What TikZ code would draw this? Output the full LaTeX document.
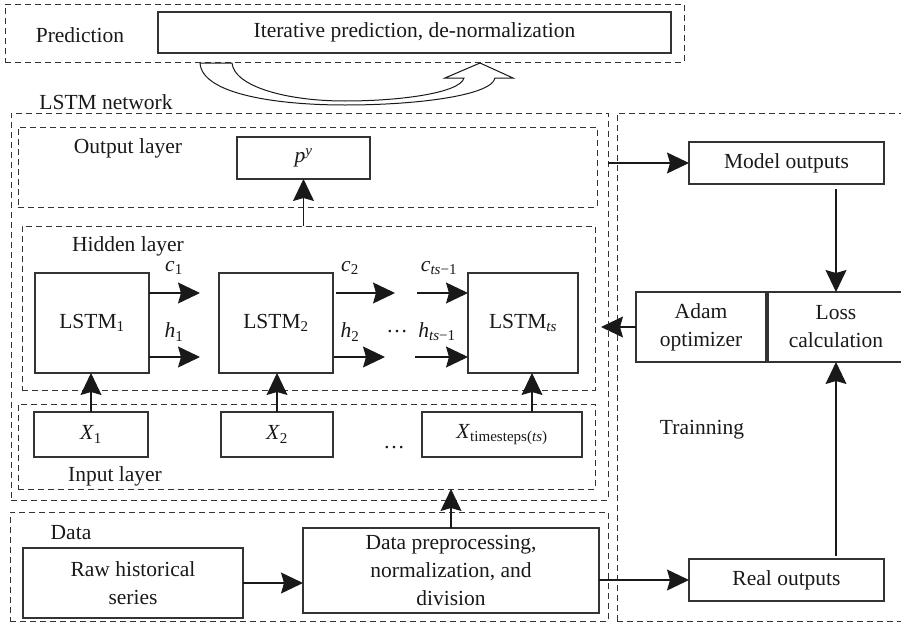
\documentclass[tikz,border=0pt]{standalone}
\usepackage{fontspec}
\setmainfont{Liberation Serif}
\usetikzlibrary{arrows.meta}
\tikzset{
  grp/.style={draw=black!80, line width=0.9pt, dash pattern=on 6pt off 4pt, anchor=north west, inner sep=0pt, outer sep=0pt},
  box/.style={draw=black!80, line width=1.3pt, anchor=north west, inner sep=0pt, outer sep=0pt, align=center, text=black!90},
  lbl/.style={inner sep=0pt, text=black!90},
  arr/.style={line width=1.1pt, draw=black!90, -{Stealth[length=22pt,width=21pt,inset=3pt]}},
}
\begin{document}
\begin{tikzpicture}[x=1pt,y=-1pt,font=\fontsize{21.5}{28}\selectfont]
\useasboundingbox (0,0) rectangle (901,629);
\clip (0,0) rectangle (901,629);

% Prediction
\node[grp, minimum width=679pt, minimum height=58pt] (pred) at (5,4) {};
\node[box, minimum width=513pt, minimum height=41pt] (iter) at (158,12) {Iterative prediction, de-normalization};
\node[lbl] (predl) at (80,35) {Prediction};

% curved feedback arrow
\draw[line width=1pt, draw=black!90] (200,63) .. controls (202,95) and (280,105) .. (345,105)
  .. controls (420,105) and (492,95) .. (495,78) -- (513,78) -- (480,63) -- (445,78) -- (464,78)
  .. controls (460,93) and (400,101) .. (345,101) .. controls (285,101) and (234,86) .. (232,63) -- cycle;

% LSTM network
\node[grp, minimum width=597pt, minimum height=387pt] (lstm) at (11,113) {};
\node[lbl] (lstml) at (106,102) {LSTM network};
\node[grp, minimum width=579pt, minimum height=80pt] (outl) at (18,127) {};
\node[lbl] (outll) at (128,148) {Output layer};
\node[box, minimum width=133pt, minimum height=42pt] (py) at (237,137) {\textit{p}\textsuperscript{\textit{y}}};
\node[grp, minimum width=573pt, minimum height=164pt] (hidl) at (22,226) {};
\node[lbl] (hidll) at (128,246) {Hidden layer};
\node[box, minimum width=114pt, minimum height=100pt] (L1) at (35,273) {LSTM\textsubscript{1}};
\node[box, minimum width=114pt, minimum height=100pt] (L2) at (219,273) {LSTM\textsubscript{2}};
\node[box, minimum width=110pt, minimum height=100pt] (Lts) at (468,273) {LSTM\textsubscript{\textit{ts}}};
\node[grp, minimum width=577pt, minimum height=85pt] (inl) at (18,404) {};
\node[box, minimum width=114pt, minimum height=45pt] (X1) at (34,412) {\textit{X}\textsubscript{1}};
\node[box, minimum width=112pt, minimum height=45pt] (X2) at (221,412) {\textit{X}\textsubscript{2}};
\node[box, minimum width=160pt, minimum height=45pt] (Xts) at (422,412) {\textit{X}\textsubscript{timesteps(\textit{ts})}};
\node[lbl] (xdots) at (394,448) {…};
\node[lbl] (inll) at (115,476) {Input layer};

% state labels
\node[lbl] (c1) at (174,268) {\textit{c}\textsubscript{1}};
\node[lbl] (h1) at (174,332) {\textit{h}\textsubscript{1}};
\node[lbl] (c2) at (350,268) {\textit{c}\textsubscript{2}};
\node[lbl] (h2) at (350,332) {\textit{h}\textsubscript{2}};
\node[lbl] (cts) at (439,268) {\textit{c}\textsubscript{\textit{ts}−1}};
\node[lbl] (hts) at (437,332) {\textit{h}\textsubscript{\textit{ts}−1}};
\node[lbl] (hdots) at (397,332) {…};

% Data
\node[grp, minimum width=598pt, minimum height=109pt] (data) at (10,512) {};
\node[lbl] (datal) at (71,533) {Data};
\node[box, minimum width=220pt, minimum height=70pt] (raw) at (23,548) {Raw historical\\series};
\node[box, minimum width=296pt, minimum height=85pt] (dp) at (303,528) {Data preprocessing,\\normalization, and\\division};

% Training
\node[grp, minimum width=300pt, minimum height=508pt] (train) at (617,113) {};
\node[lbl] (trainl) at (702,430) {Trainning};
\node[box, minimum width=195pt, minimum height=42pt] (mo) at (689,142) {Model outputs};
\node[box, minimum width=130pt, minimum height=70pt] (adam) at (636,292) {Adam\\optimizer};
\node[box, minimum width=136pt, minimum height=70pt] (loss) at (768,292) {Loss\\calculation};
\node[box, minimum width=195pt, minimum height=42pt] (real) at (689,559) {Real outputs};

% arrows
\draw[arr] (hidl.north -| py.south) -- (py.south);
\draw[arr] (lstm.east |- mo.west) -- (mo.west);
\draw[arr] ([yshift=30pt]L1.east) -- ++(51,0);
\draw[arr] ([yshift=-34pt]L1.east) -- ++(51,0);
\draw[arr] ([xshift=3pt,yshift=30pt]L2.east) -- ++(59,0);
\draw[arr] ([xshift=1pt,yshift=-34pt]L2.east) -- ++(51,0);
\draw[arr] ([xshift=-51pt,yshift=30pt]Lts.west) -- ([yshift=30pt]Lts.west);
\draw[arr] ([xshift=-53pt,yshift=-34pt]Lts.west) -- ([yshift=-34pt]Lts.west);
\draw[arr] (X1.north) -- (X1.north |- L1.south);
\draw[arr] (X2.north) -- (X2.north |- L2.south);
\coordinate (lt) at ([xshift=9pt]Lts.south);
\draw[arr] (Xts.north -| lt) -- (lt);
\draw[arr] (dp.north) -- (dp.north |- inl.south);
\draw[arr] (raw.east) -- (raw.east -| dp.west);
\draw[arr] (dp.east |- real.west) -- (real.west);
\draw[arr] ([yshift=-5pt]mo.south -| loss.north) -- (loss.north);
\draw[arr] ([yshift=3pt]real.north -| loss.south) -- (loss.south);
\draw[arr] (adam.west) -- ([xshift=-7pt]lstm.east |- adam.west);
\end{tikzpicture}
\end{document}
